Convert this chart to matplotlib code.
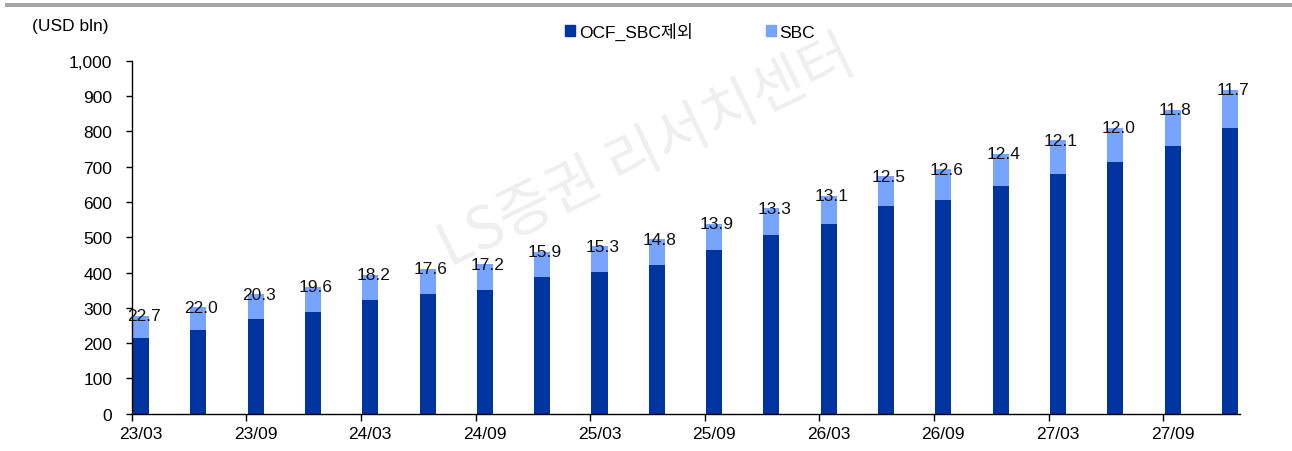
"""Stacked quarterly OCF (ex-SBC) and SBC bars with SBC share labels."""

import matplotlib

matplotlib.use("Agg")
import matplotlib.pyplot as plt
from matplotlib.patches import Patch, Rectangle
from matplotlib.ticker import FuncFormatter

# quarterly data, USD bln
quarters = [
    "23/03", "23/06", "23/09", "23/12", "24/03", "24/06", "24/09", "24/12",
    "25/03", "25/06", "25/09", "25/12", "26/03", "26/06", "26/09", "26/12",
    "27/03", "27/06", "27/09", "27/12",
]
ocf_ex_sbc = [215, 236, 269, 289, 321, 338, 350, 386, 402, 421,
              463, 505, 537, 588, 606, 645, 680, 713, 759, 810]
sbc = [63, 66, 69, 71, 72, 72, 73, 73, 73, 73,
       75, 77, 81, 84, 87, 91, 94, 97, 102, 107]
sbc_share = ["22.7", "22.0", "20.3", "19.6", "18.2", "17.6", "17.2", "15.9",
             "15.3", "14.8", "13.9", "13.3", "13.1", "12.5", "12.6", "12.4",
             "12.1", "12.0", "11.8", "11.7"]

DARK = "#00349E"
LIGHT = "#76A4FF"
LAT = ["Liberation Sans", "DejaVu Sans"]
KR = ["Liberation Sans", "Noto Sans CJK KR", "DejaVu Sans"]

W, H = 1292, 452
fig = plt.figure(figsize=(W / 100, H / 100), dpi=100)
ax = fig.add_axes([131.7 / W, 1 - 414.7 / H, (1240 - 131.7) / W, (414.7 - 61.7) / H])

# watermark
fig.text(450 / W, 1 - 268 / H, "LS증권 리서치센터", rotation=26, fontsize=42,
         color="#EFEFEF", family=["Noto Sans CJK KR"], ha="left", va="baseline",
         rotation_mode="anchor", zorder=0)

offset = 0.163
xs = [i + offset for i in range(len(quarters))]
ax.bar(xs, ocf_ex_sbc, width=0.28, color=DARK, zorder=2)
ax.bar(xs, sbc, bottom=ocf_ex_sbc, width=0.28, color=LIGHT, zorder=2)

for x, o, s, lab in zip(xs, ocf_ex_sbc, sbc, sbc_share):
    ax.text(x + 0.05, o + s, lab, ha="center", va="center", fontsize=12.5,
            family=LAT, color="#111111", zorder=3)

ax.set_xlim(0, 19.34)
ax.set_ylim(0, 1000)
ax.patch.set_alpha(0)

ax.set_yticks(range(0, 1001, 100))
ax.yaxis.set_major_formatter(FuncFormatter(lambda v, _: f"{int(v):,}"))
ax.tick_params(axis="y", direction="out", length=4, width=1, pad=10,
               labelsize=12.5)
for lab in ax.get_yticklabels():
    lab.set_family(LAT)

ax.set_xticks([xs[i] for i in range(0, len(quarters), 2)])
ax.set_xticklabels(quarters[::2])
ax.set_xticks(range(0, len(quarters), 2), minor=True)
ax.tick_params(axis="x", which="major", length=0, pad=9, labelsize=12.5)
ax.tick_params(axis="x", which="minor", direction="out", length=5, width=1)
for lab in ax.get_xticklabels():
    lab.set_family(LAT)

for side in ("top", "right"):
    ax.spines[side].set_visible(False)
for side in ("left", "bottom"):
    ax.spines[side].set_linewidth(1)
    ax.spines[side].set_color("black")

# header: gray rule, unit label, legend
fig.add_artist(Rectangle((5 / W, 1 - 8 / H), 1 - 5 / W, 4 / H,
                         transform=fig.transFigure, color="#A6A6A6", lw=0))
fig.text(32 / W, 1 - 27 / H, "(USD bln)", fontsize=12.5, family=KR,
         ha="left", va="center")

handles = [Patch(color=DARK, label="OCF_SBC제외"), Patch(color=LIGHT, label="SBC")]
fig.legend(handles=handles, loc="center", bbox_to_anchor=(690 / W, 1 - 32 / H),
           ncol=2, frameon=False, prop={"family": KR, "size": 12.5},
           handlelength=0.6, handleheight=0.6, handletextpad=0.2,
           columnspacing=4.2)

fig.savefig("out.png", dpi=100)
